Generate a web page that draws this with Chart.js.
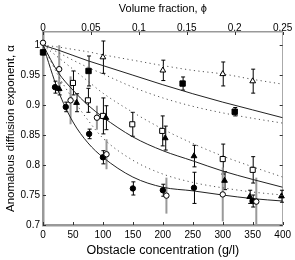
<!DOCTYPE html>
<html>
<head>
<meta charset="utf-8">
<script src="https://cdn.jsdelivr.net/npm/chart.js@4.4.0/dist/chart.umd.min.js"></script>
<style>
  html, body { margin: 0; padding: 0; background: #fff; }
  #wrap { width: 295px; height: 260px; }
</style>
</head>
<body>
<div id="wrap"><canvas id="chart"></canvas></div>
<script>
// tick labels
var xTicks = [0, 50, 100, 150, 200, 250, 300, 350, 400];
var phiTicks = [0, 0.05, 0.1, 0.15, 0.2, 0.25];
var yTicks = [0.7, 0.75, 0.8, 0.85, 0.9, 0.95, 1];

// fitted curves
var fitX = [0, 25, 50, 75, 100, 150, 200, 250, 300, 350, 400];
var fitSquares   = [1, 0.992, 0.983, 0.974, 0.966, 0.950, 0.934, 0.919, 0.905, 0.892, 0.879];
var fitTriOpen   = [1, 0.997, 0.993, 0.989, 0.984, 0.975, 0.966, 0.958, 0.952, 0.943, 0.935];
var fitUpperDot  = [1, 0.988, 0.975, 0.963, 0.952, 0.930, 0.912, 0.898, 0.887, 0.878, 0.870];
var fitTriFilled = [1, 0.955, 0.925, 0.900, 0.880, 0.847, 0.824, 0.807, 0.790, 0.776, 0.763];
var fitSqOpen    = [1, 0.980, 0.960, 0.940, 0.920, 0.888, 0.860, 0.836, 0.815, 0.797, 0.780];
var fitCircOpen  = [1, 0.950, 0.910, 0.875, 0.845, 0.808, 0.785, 0.771, 0.762, 0.755, 0.750];
var fitCircles   = [1, 0.925, 0.872, 0.837, 0.813, 0.780, 0.763, 0.757, 0.750, 0.744, 0.740];

// measured points
var sqX = [0, 76, 233, 320];
var sqY = [0.988, 0.957, 0.936, 0.889];
var sqErr = [0.004, 0.025, 0.011, 0.007];

var triOpenX = [100, 200, 300, 350];
var triOpenY = [0.980, 0.958, 0.952, 0.940];
var triOpenErr = [0.027, 0.017, 0.020, 0.020];

var triX = [27, 56, 105, 204, 252, 303, 345, 398];
var triY = [0.927, 0.904, 0.879, 0.845, 0.815, 0.774, 0.747, 0.748];
var triErr = [0.010, 0.015, 0.020, 0.020, 0.018, 0.015, 0.011, 0.010];

var sqOpenX = [50, 75, 100, 149, 199, 300, 350];
var sqOpenY = [0.937, 0.908, 0.882, 0.868, 0.857, 0.810, 0.792];
var sqOpenErr = [0.020, 0.020, 0.030, 0.020, 0.025, 0.025, 0.022];

var circOpenX = [0, 27, 46, 90, 106, 206, 300, 356];
var circOpenY = [1.004, 0.960, 0.908, 0.879, 0.818, 0.749, 0.751, 0.739];
var circOpenErr = [0.004, 0.040, 0.040, 0.020, 0.025, 0.030, 0.045, 0.040];

var circX = [20, 38, 77, 100, 150, 200, 252, 350];
var circY = [0.930, 0.897, 0.852, 0.813, 0.761, 0.758, 0.762, 0.740];
var circErr = [0.010, 0.008, 0.008, 0.011, 0.011, 0.010, 0.026, 0.010];

function pts(xs, ys) {
  return xs.map(function (x, i) { return { x: x, y: ys[i] }; });
}

function fitLine(ys, dotted) {
  return {
    data: pts(fitX, ys),
    showLine: true,
    pointRadius: 0,
    borderColor: dotted ? '#555' : '#222',
    borderWidth: 1,
    borderDash: dotted ? [1.2, 3.3] : [],
    tension: 0.4,
    cubicInterpolationMode: 'monotone',
    order: 2
  };
}

function markers(xs, ys, err, style, filled, r, greyBar) {
  return {
    data: pts(xs, ys),
    err: err,
    greyBar: greyBar,
    showLine: false,
    pointStyle: style,
    pointRadius: r,
    pointBackgroundColor: filled ? '#000' : '#fff',
    pointBorderColor: '#000',
    pointBorderWidth: 1,
    clip: false,
    order: 1
  };
}

// vertical error bars drawn with the chart's own scales
var errorBars = {
  id: 'errorBars',
  beforeDatasetsDraw: function (chart) {
    var ctx = chart.ctx, xs = chart.scales.x, ys = chart.scales.y;
    ctx.save();
    chart.data.datasets.forEach(function (ds) {
      if (!ds.err) return;
      ds.data.forEach(function (p, i) {
        var px = xs.getPixelForValue(p.x);
        var top = ys.getPixelForValue(p.y + ds.err[i]);
        var bot = ys.getPixelForValue(p.y - ds.err[i]);
        ctx.beginPath();
        if (ds.greyBar) {
          ctx.strokeStyle = '#999';
          ctx.lineWidth = 2;
          ctx.moveTo(px, top); ctx.lineTo(px, bot);
        } else {
          ctx.strokeStyle = '#000';
          ctx.lineWidth = 1;
          ctx.moveTo(px + 0.5, top); ctx.lineTo(px + 0.5, bot);
          ctx.moveTo(px - 1.5, top); ctx.lineTo(px + 2.5, top);
          ctx.moveTo(px - 1.5, bot); ctx.lineTo(px + 2.5, bot);
        }
        ctx.stroke();
      });
    });
    ctx.restore();
  }
};

// small ticks pointing into the plot
var innerTicks = {
  id: 'innerTicks',
  afterDraw: function (chart) {
    var ctx = chart.ctx, a = chart.chartArea, s = chart.scales;
    ctx.save();
    ctx.strokeStyle = '#333';
    ctx.lineWidth = 1;
    ctx.beginPath();
    xTicks.forEach(function (v) {
      var px = Math.round(s.x.getPixelForValue(v)) + 0.5;
      ctx.moveTo(px, a.bottom); ctx.lineTo(px, a.bottom - 3);
    });
    phiTicks.forEach(function (v) {
      var px = Math.round(s.x2.getPixelForValue(v)) + 0.5;
      ctx.moveTo(px, a.top); ctx.lineTo(px, a.top + 3);
    });
    yTicks.forEach(function (v) {
      var py = Math.round(s.y.getPixelForValue(v)) + 0.5;
      ctx.moveTo(a.left, py); ctx.lineTo(a.left + 3, py);
      ctx.moveTo(a.right, py); ctx.lineTo(a.right - 3, py);
    });
    ctx.stroke();
    ctx.restore();
  }
};

function fixTicks(list) {
  return function (scale) {
    scale.ticks = list.map(function (v) { return { value: v }; });
  };
}

function fmt(v) { return String(+v.toFixed(2)); }

var fam = 'Liberation Sans, Arial, sans-serif';
var font = { family: fam, size: 10 };
var noGrid = { display: false, drawTicks: false };

new Chart(document.getElementById('chart'), {
  type: 'scatter',
  data: {
    datasets: [
      fitLine(fitSquares, false),
      fitLine(fitTriOpen, true),
      fitLine(fitUpperDot, true),
      fitLine(fitTriFilled, false),
      fitLine(fitSqOpen, true),
      fitLine(fitCircOpen, true),
      fitLine(fitCircles, false),
      markers(sqX, sqY, sqErr, 'rect', true, 3.8, false),
      markers(triOpenX, triOpenY, triOpenErr, 'triangle', false, 3.3, false),
      markers(triX, triY, triErr, 'triangle', true, 3.3, false),
      markers(sqOpenX, sqOpenY, sqOpenErr, 'rect', false, 3.6, false),
      markers(circOpenX, circOpenY, circOpenErr, 'circle', false, 2.7, true),
      markers(circX, circY, circErr, 'circle', true, 2.7, false)
    ]
  },
  options: {
    responsive: true,
    maintainAspectRatio: false,
    animation: false,
    layout: { padding: 0 },
    plugins: { legend: { display: false }, tooltip: { enabled: false } },
    scales: {
      x: {
        type: 'linear', position: 'bottom', min: 0, max: 400,
        afterBuildTicks: fixTicks(xTicks),
        afterFit: function (s) { s.height = 35; },
        grid: noGrid,
        border: { display: true, color: '#999', width: 2.5 },
        ticks: { font: font, color: '#000', padding: 4, maxRotation: 0, callback: fmt },
        title: { display: true, text: 'Obstacle concentration (g/l)', font: { family: fam, size: 12.5 }, color: '#000', padding: { top: 0, bottom: 2 } }
      },
      x2: {
        type: 'linear', position: 'top', min: 0, max: 0.25,
        afterBuildTicks: fixTicks(phiTicks),
        afterFit: function (s) { s.height = 32; },
        grid: noGrid,
        border: { display: true, color: '#999', width: 1.5 },
        ticks: { font: font, color: '#000', padding: -2, maxRotation: 0, callback: fmt },
        title: { display: true, text: 'Volume fraction, ϕ', font: { family: fam, size: 11 }, color: '#000', padding: { top: 2, bottom: 0 } }
      },
      y: {
        type: 'linear', position: 'left', min: 0.7, max: 1.022,
        afterBuildTicks: fixTicks(yTicks),
        afterFit: function (s) { s.width = 43; },
        grid: noGrid,
        border: { display: true, color: '#999', width: 2.5 },
        ticks: { font: font, color: '#000', padding: 3, callback: fmt },
        title: { display: true, text: 'Anomalous diffusion exponent, α', font: { family: fam, size: 11.5 }, color: '#000', padding: { top: 4, bottom: 0 } }
      },
      y2: {
        type: 'linear', position: 'right', min: 0.7, max: 1.022,
        afterBuildTicks: fixTicks(yTicks),
        afterFit: function (s) { s.width = 12; },
        grid: noGrid,
        border: { display: true, color: '#aaa', width: 1 },
        ticks: { display: false }
      }
    }
  },
  plugins: [errorBars, innerTicks]
});
</script>
</body>
</html>
